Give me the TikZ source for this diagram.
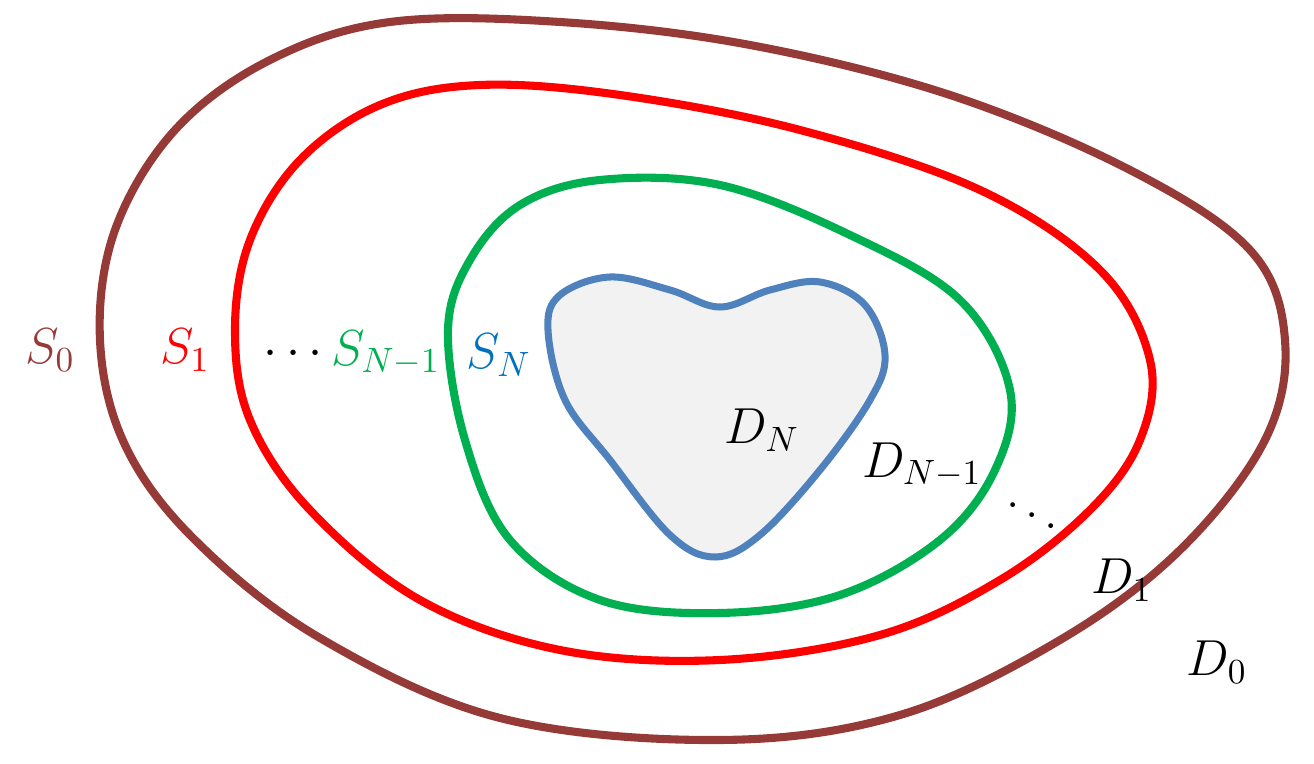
\documentclass[tikz,border=0pt]{standalone}
\definecolor{sbrown}{RGB}{150,58,56}
\definecolor{sred}{RGB}{255,0,0}
\definecolor{sgreen}{RGB}{0,176,80}
\definecolor{sblue}{RGB}{79,129,189}
\definecolor{sbluetext}{RGB}{0,112,192}
\definecolor{dfill}{RGB}{242,242,242}
\begin{document}
\begin{tikzpicture}[x=0.01cm,y=-0.01cm]
  \tikzset{
    level/.style={line width=2.3pt},
    lab/.style={font=\fontsize{14}{17}\selectfont, inner sep=0pt},
  }
  \useasboundingbox (0,0) rectangle (1314,764);
  % nested surfaces
  \draw[level,sbrown] plot[smooth cycle,tension=0.6] coordinates {
    (100,340) (115,230) (175,130) (270,60) (390,22) (560,22) (750,45)
    (950,95) (1130,170) (1250,250) (1285,340) (1265,440) (1180,550)
    (1060,640) (900,715) (720,740) (500,718) (320,638) (195,540) (125,445)};
  \draw[level,sred] plot[smooth cycle,tension=0.6] coordinates {
    (235,330) (250,240) (300,160) (380,105) (480,85) (620,95) (800,130)
    (980,190) (1100,270) (1150,360) (1140,440) (1090,510) (1000,580)
    (880,635) (720,660) (560,650) (420,600) (310,510) (250,420)};
  \draw[level,sgreen] plot[smooth cycle,tension=0.6] coordinates {
    (448,330) (470,260) (520,205) (600,180) (720,185) (850,235) (960,300)
    (1010,390) (995,470) (940,540) (840,595) (720,613) (600,600)
    (510,540) (465,440)};
  \draw[line width=2pt,sblue,fill=dfill] plot[smooth cycle,tension=0.6] coordinates {
    (548,330) (560,295) (610,277) (670,290) (720,307) (770,290) (820,282)
    (865,305) (885,355) (870,400) (820,470) (760,535) (715,557) (670,535)
    (610,460) (565,400)};
  % labels
  \node[lab,sgreen] (snm) at (352,353) {$\textcolor{black}{\cdots}\mkern3mu S_{N-1}$};
  \node[lab,sbrown] (s0) at (50,350) {$S_0$};
  \node[lab,sred] (s1) at (185,350) {$S_1$};
  \node[lab,sbluetext] (sn) at (499,355) {$S_N$};
  \node[lab] (dn) at (762,430) {$D_N$};
  \node[lab] (dnm) at (922,465) {$D_{N-1}$};
  \node[lab] (dd) at (1032,505) {$\ddots$};
  \node[lab] (d1) at (1122,580) {$D_1$};
  \node[lab] (d0) at (1217,662) {$D_0$};
\end{tikzpicture}
\end{document}
